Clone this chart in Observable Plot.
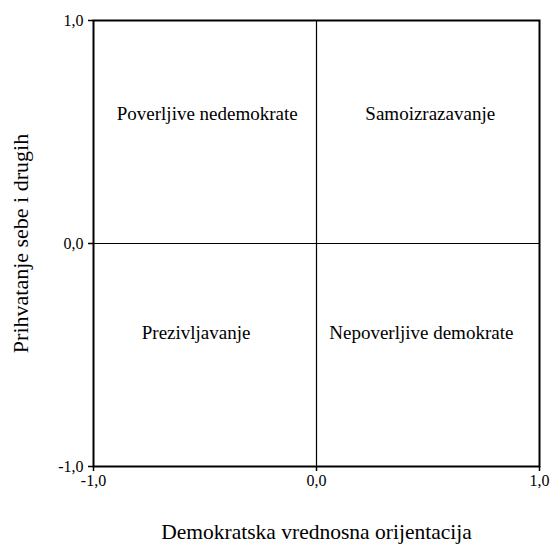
<!DOCTYPE html>
<html><head><meta charset="utf-8">
<script src="https://cdn.jsdelivr.net/npm/d3@7"></script>
<script src="https://cdn.jsdelivr.net/npm/@observablehq/plot@0.6"></script>
<style>body{margin:0;background:#fff}</style>
</head><body><div id="chart"></div>
<script>
const ticks = [-1, 0, 1];
const labels = ["Poverljive nedemokrate", "Samoizrazavanje", "Prezivljavanje", "Nepoverljive demokrate"];
const labelX = [-0.49, 0.51, -0.54, 0.47];
const labelY = [0.58, 0.58, -0.4, -0.4];
const xTitle = "Demokratska vrednosna orijentacija";
const yTitle = "Prihvatanje sebe i drugih";

const quad = labels.map((t, i) => ({t, x: labelX[i], y: labelY[i]}));
const fmt = d => d3.format(".1f")(d).replace(".", ",").replace("−", "-");
const serif = "Liberation Serif, Times New Roman, serif";

const chart = Plot.plot({
  width: 550, height: 547,
  marginLeft: 93, marginRight: 11, marginTop: 20, marginBottom: 81,
  style: {fontFamily: serif, fontSize: "16px", color: "#000", background: "#fff"},
  x: {domain: [-1, 1], ticks, tickFormat: fmt, label: null},
  y: {domain: [-1, 1], ticks, tickFormat: fmt, label: null},
  marks: [
    Plot.ruleX([0], {stroke: "#000", strokeWidth: 1.2}),
    Plot.ruleY([0], {stroke: "#000", strokeWidth: 1.2}),
    Plot.frame({stroke: "#000", strokeWidth: 2}),
    Plot.axisX({ticks, tickFormat: fmt, tickSize: 5, tickPadding: 3, fontSize: 16, fontFamily: serif, strokeWidth: 1.5}),
    Plot.axisY({ticks, tickFormat: fmt, tickSize: 5, tickPadding: 5, fontSize: 16, fontFamily: serif, strokeWidth: 1.5}),
    Plot.text(quad, {x: "x", y: "y", text: "t", fontSize: 19, fontFamily: serif, fill: "#000"}),
    Plot.text([xTitle], {frameAnchor: "bottom", lineAnchor: "middle", textAnchor: "middle", dy: 66, text: d => d, fontSize: 21.5, fontFamily: serif, fill: "#000"}),
    Plot.text([yTitle], {frameAnchor: "left", lineAnchor: "middle", textAnchor: "middle", dx: -73, rotate: -90, text: d => d, fontSize: 22, fontFamily: serif, fill: "#000"})
  ]
});
document.getElementById("chart").appendChild(chart);
</script></body></html>
